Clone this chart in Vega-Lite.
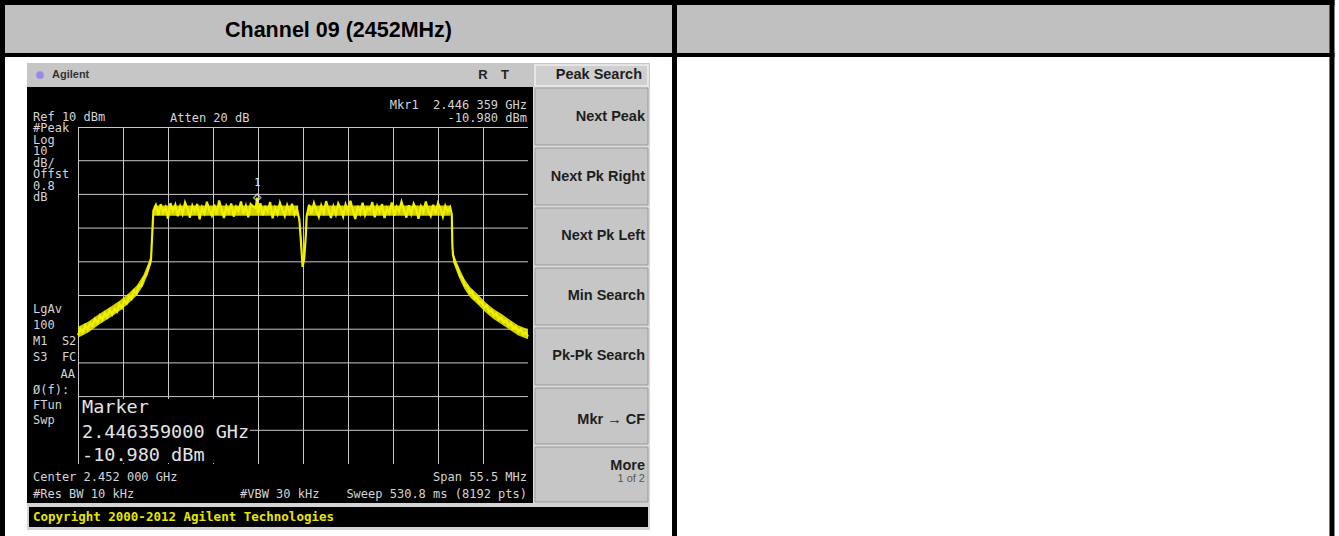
{
  "$schema": "https://vega.github.io/schema/vega-lite/v6.json",
  "width": 450,
  "height": 337,
  "autosize": {"type": "none"},
  "padding": {"left": 78, "top": 127, "right": 811, "bottom": 72},
  "background": "white",
  "config": {"view": {"fill": "black", "stroke": "#c8c8c8", "strokeWidth": 1}},
  "datasets": {
    "one": [{}],
    "marker": [{"f": 2446.359, "dbm": -10.98}],
    "envelope": [
      {"seg": "l", "f": 2424.25, "lo": -52.5, "hi": -49.3},
      {"seg": "l", "f": 2425.5, "lo": -51.0, "hi": -47.8},
      {"seg": "l", "f": 2427.0, "lo": -48.4, "hi": -45.3},
      {"seg": "l", "f": 2428.5, "lo": -46.1, "hi": -43.0},
      {"seg": "l", "f": 2429.5, "lo": -44.4, "hi": -41.3},
      {"seg": "l", "f": 2430.5, "lo": -42.3, "hi": -39.3},
      {"seg": "l", "f": 2431.5, "lo": -40.0, "hi": -37.0},
      {"seg": "l", "f": 2432.3, "lo": -37.0, "hi": -34.0},
      {"seg": "l", "f": 2432.9, "lo": -33.5, "hi": -30.5},
      {"seg": "l", "f": 2433.3, "lo": -30.5, "hi": -27.5},
      {"seg": "a", "f": 2433.6, "lo": -16.3, "hi": -13.3},
      {"seg": "a", "f": 2451.4, "lo": -16.3, "hi": -13.3},
      {"seg": "b", "f": 2452.6, "lo": -16.3, "hi": -13.3},
      {"seg": "b", "f": 2470.2, "lo": -16.3, "hi": -13.3},
      {"seg": "r", "f": 2470.5, "lo": -30.0, "hi": -27.0},
      {"seg": "r", "f": 2470.8, "lo": -32.0, "hi": -29.0},
      {"seg": "r", "f": 2471.3, "lo": -35.0, "hi": -32.0},
      {"seg": "r", "f": 2471.9, "lo": -38.0, "hi": -35.0},
      {"seg": "r", "f": 2472.6, "lo": -40.5, "hi": -37.5},
      {"seg": "r", "f": 2473.5, "lo": -42.5, "hi": -39.5},
      {"seg": "r", "f": 2474.5, "lo": -45.0, "hi": -42.0},
      {"seg": "r", "f": 2475.5, "lo": -47.0, "hi": -44.0},
      {"seg": "r", "f": 2476.5, "lo": -48.5, "hi": -45.5},
      {"seg": "r", "f": 2477.5, "lo": -50.2, "hi": -47.2},
      {"seg": "r", "f": 2478.5, "lo": -51.8, "hi": -48.8},
      {"seg": "r", "f": 2479.75, "lo": -53.0, "hi": -50.0}
    ],
    "trace": [
      {"f": 2424.25, "dbm": -51.8}, {"f": 2424.55, "dbm": -49.9}, {"f": 2424.85, "dbm": -51.0}, {"f": 2425.15, "dbm": -48.8},
      {"f": 2425.45, "dbm": -50.1}, {"f": 2425.75, "dbm": -48.2}, {"f": 2426.05, "dbm": -49.0}, {"f": 2426.35, "dbm": -46.9},
      {"f": 2426.65, "dbm": -48.1}, {"f": 2426.95, "dbm": -46.0}, {"f": 2427.25, "dbm": -47.3}, {"f": 2427.55, "dbm": -45.2},
      {"f": 2427.85, "dbm": -46.4}, {"f": 2428.15, "dbm": -44.3}, {"f": 2428.45, "dbm": -45.6}, {"f": 2428.75, "dbm": -43.9},
      {"f": 2429.05, "dbm": -44.8}, {"f": 2429.35, "dbm": -42.6}, {"f": 2429.65, "dbm": -43.7}, {"f": 2429.95, "dbm": -41.5},
      {"f": 2430.25, "dbm": -42.4}, {"f": 2430.55, "dbm": -40.3}, {"f": 2430.85, "dbm": -41.0}, {"f": 2431.15, "dbm": -38.6},
      {"f": 2431.45, "dbm": -39.4}, {"f": 2431.75, "dbm": -37.0}, {"f": 2432.05, "dbm": -37.2}, {"f": 2432.35, "dbm": -34.8},
      {"f": 2432.65, "dbm": -33.9}, {"f": 2432.95, "dbm": -31.5}, {"f": 2433.25, "dbm": -29.5}, {"f": 2433.4, "dbm": -22.0},
      {"f": 2433.55, "dbm": -14.8}, {"f": 2433.85, "dbm": -13.2}, {"f": 2434.15, "dbm": -16.1}, {"f": 2434.45, "dbm": -12.9},
      {"f": 2434.75, "dbm": -15.4}, {"f": 2435.05, "dbm": -13.8}, {"f": 2435.35, "dbm": -17.2}, {"f": 2435.65, "dbm": -12.6},
      {"f": 2435.95, "dbm": -14.9}, {"f": 2436.25, "dbm": -13.1}, {"f": 2436.55, "dbm": -16.5}, {"f": 2436.85, "dbm": -13.6},
      {"f": 2437.15, "dbm": -15.8}, {"f": 2437.45, "dbm": -12.4}, {"f": 2437.75, "dbm": -14.2}, {"f": 2438.05, "dbm": -16.9},
      {"f": 2438.35, "dbm": -13.3}, {"f": 2438.65, "dbm": -15.1}, {"f": 2438.95, "dbm": -12.8}, {"f": 2439.25, "dbm": -17.4},
      {"f": 2439.55, "dbm": -13.9}, {"f": 2439.85, "dbm": -15.6}, {"f": 2440.15, "dbm": -12.2}, {"f": 2440.45, "dbm": -14.7},
      {"f": 2440.75, "dbm": -16.3}, {"f": 2441.05, "dbm": -13.0}, {"f": 2441.35, "dbm": -15.9}, {"f": 2441.65, "dbm": -11.8},
      {"f": 2441.95, "dbm": -14.4}, {"f": 2442.25, "dbm": -17.0}, {"f": 2442.55, "dbm": -13.5}, {"f": 2442.85, "dbm": -15.2},
      {"f": 2443.15, "dbm": -12.7}, {"f": 2443.45, "dbm": -16.6}, {"f": 2443.75, "dbm": -13.7}, {"f": 2444.05, "dbm": -14.9},
      {"f": 2444.35, "dbm": -12.1}, {"f": 2444.65, "dbm": -15.7}, {"f": 2444.95, "dbm": -13.4}, {"f": 2445.25, "dbm": -16.8},
      {"f": 2445.55, "dbm": -12.9}, {"f": 2445.85, "dbm": -13.6}, {"f": 2446.15, "dbm": -14.1}, {"f": 2446.359, "dbm": -10.98},
      {"f": 2446.45, "dbm": -15.5}, {"f": 2446.75, "dbm": -12.6}, {"f": 2447.05, "dbm": -16.2}, {"f": 2447.35, "dbm": -13.8},
      {"f": 2447.65, "dbm": -15.0}, {"f": 2447.95, "dbm": -12.3}, {"f": 2448.25, "dbm": -17.1}, {"f": 2448.55, "dbm": -14.0},
      {"f": 2448.85, "dbm": -15.8}, {"f": 2449.15, "dbm": -12.5}, {"f": 2449.45, "dbm": -14.6}, {"f": 2449.75, "dbm": -16.4},
      {"f": 2450.05, "dbm": -13.2}, {"f": 2450.35, "dbm": -15.3}, {"f": 2450.65, "dbm": -12.8}, {"f": 2450.95, "dbm": -16.0},
      {"f": 2451.25, "dbm": -14.3}, {"f": 2451.55, "dbm": -17.5}, {"f": 2451.75, "dbm": -24.0}, {"f": 2451.95, "dbm": -31.5},
      {"f": 2452.15, "dbm": -29.0}, {"f": 2452.35, "dbm": -22.0}, {"f": 2452.45, "dbm": -16.5}, {"f": 2452.75, "dbm": -13.1},
      {"f": 2453.05, "dbm": -15.7}, {"f": 2453.35, "dbm": -12.6}, {"f": 2453.65, "dbm": -14.8}, {"f": 2453.95, "dbm": -16.7},
      {"f": 2454.25, "dbm": -13.3}, {"f": 2454.55, "dbm": -15.4}, {"f": 2454.85, "dbm": -12.0}, {"f": 2455.15, "dbm": -14.5},
      {"f": 2455.45, "dbm": -17.0}, {"f": 2455.75, "dbm": -13.6}, {"f": 2456.05, "dbm": -15.9}, {"f": 2456.35, "dbm": -12.7},
      {"f": 2456.65, "dbm": -14.2}, {"f": 2456.95, "dbm": -16.5}, {"f": 2457.25, "dbm": -13.0}, {"f": 2457.55, "dbm": -15.1},
      {"f": 2457.85, "dbm": -11.9}, {"f": 2458.15, "dbm": -14.8}, {"f": 2458.45, "dbm": -17.3}, {"f": 2458.75, "dbm": -13.4},
      {"f": 2459.05, "dbm": -15.6}, {"f": 2459.35, "dbm": -12.5}, {"f": 2459.65, "dbm": -16.1}, {"f": 2459.95, "dbm": -13.9},
      {"f": 2460.25, "dbm": -14.7}, {"f": 2460.55, "dbm": -12.3}, {"f": 2460.85, "dbm": -16.8}, {"f": 2461.15, "dbm": -13.5},
      {"f": 2461.45, "dbm": -15.2}, {"f": 2461.75, "dbm": -12.9}, {"f": 2462.05, "dbm": -17.0}, {"f": 2462.35, "dbm": -14.1},
      {"f": 2462.65, "dbm": -15.5}, {"f": 2462.95, "dbm": -12.4}, {"f": 2463.25, "dbm": -16.3}, {"f": 2463.55, "dbm": -13.7},
      {"f": 2463.85, "dbm": -15.0}, {"f": 2464.15, "dbm": -12.2}, {"f": 2464.45, "dbm": -14.6}, {"f": 2464.75, "dbm": -16.9},
      {"f": 2465.05, "dbm": -13.2}, {"f": 2465.35, "dbm": -15.8}, {"f": 2465.65, "dbm": -12.8}, {"f": 2465.95, "dbm": -14.4},
      {"f": 2466.25, "dbm": -17.2}, {"f": 2466.55, "dbm": -13.6}, {"f": 2466.85, "dbm": -15.3}, {"f": 2467.15, "dbm": -12.1},
      {"f": 2467.45, "dbm": -14.9}, {"f": 2467.75, "dbm": -16.4}, {"f": 2468.05, "dbm": -13.1}, {"f": 2468.35, "dbm": -15.7},
      {"f": 2468.65, "dbm": -12.6}, {"f": 2468.95, "dbm": -14.2}, {"f": 2469.25, "dbm": -16.6}, {"f": 2469.55, "dbm": -13.4},
      {"f": 2469.85, "dbm": -15.1}, {"f": 2470.15, "dbm": -13.8}, {"f": 2470.35, "dbm": -16.0}, {"f": 2470.42, "dbm": -25.0},
      {"f": 2470.5, "dbm": -28.0}, {"f": 2470.75, "dbm": -30.5}, {"f": 2471.05, "dbm": -31.6}, {"f": 2471.35, "dbm": -34.2},
      {"f": 2471.65, "dbm": -34.8}, {"f": 2471.95, "dbm": -37.0}, {"f": 2472.25, "dbm": -37.1}, {"f": 2472.55, "dbm": -39.2},
      {"f": 2472.85, "dbm": -38.8}, {"f": 2473.15, "dbm": -40.9}, {"f": 2473.45, "dbm": -40.5}, {"f": 2473.75, "dbm": -42.3},
      {"f": 2474.05, "dbm": -41.8}, {"f": 2474.35, "dbm": -43.6}, {"f": 2474.65, "dbm": -43.0}, {"f": 2474.95, "dbm": -44.9},
      {"f": 2475.25, "dbm": -44.3}, {"f": 2475.55, "dbm": -46.0}, {"f": 2475.85, "dbm": -45.4}, {"f": 2476.15, "dbm": -47.1},
      {"f": 2476.45, "dbm": -46.5}, {"f": 2476.75, "dbm": -48.0}, {"f": 2477.05, "dbm": -47.4}, {"f": 2477.35, "dbm": -49.0},
      {"f": 2477.65, "dbm": -48.3}, {"f": 2477.95, "dbm": -49.9}, {"f": 2478.25, "dbm": -49.2}, {"f": 2478.55, "dbm": -50.8},
      {"f": 2478.85, "dbm": -50.0}, {"f": 2479.15, "dbm": -51.6}, {"f": 2479.45, "dbm": -50.9}, {"f": 2479.75, "dbm": -52.2}
    ]
  },
  "layer": [
    {"data": {"name": "one"}, "mark": {"type": "rect", "fill": "#c0c0c0"},
     "encoding": {"x": {"datum": 2415.0}, "x2": {"datum": 2578.787}, "y": {"datum": 46.796}, "y2": {"datum": 31.365}}},
    {"data": {"name": "one"}, "mark": {"type": "rect", "fill": "#c6c6c6"},
     "encoding": {"x": {"datum": 2417.96}, "x2": {"datum": 2494.797}, "y": {"datum": 28.991}, "y2": {"datum": 21.87}}},
    {"data": {"name": "one"}, "mark": {"type": "rect", "fill": "#dcdcdc"},
     "encoding": {"x": {"datum": 2480.367}, "x2": {"datum": 2494.797}, "y": {"datum": 21.87}, "y2": {"datum": -101.574}}},
    {"data": {"name": "one"}, "mark": {"type": "rect", "fill": "#d4d4d4"},
     "encoding": {"x": {"datum": 2417.96}, "x2": {"datum": 2494.797}, "y": {"datum": -101.574}, "y2": {"datum": -109.586}}},
    {"data": {"name": "one"}, "mark": {"type": "rect", "fill": "black"},
     "encoding": {"x": {"datum": 2418.207}, "x2": {"datum": 2494.55}, "y": {"datum": -102.761}, "y2": {"datum": -108.696}}},
    {"data": {"name": "one"}, "mark": {"type": "rect", "fill": "black"},
     "encoding": {"x": {"datum": 2417.96}, "x2": {"datum": 2424.25}, "y": {"datum": 21.87}, "y2": {"datum": -101.574}}},
    {"data": {"name": "one"}, "mark": {"type": "rect", "fill": "black"},
     "encoding": {"x": {"datum": 2424.25}, "x2": {"datum": 2479.75}, "y": {"datum": 21.87}, "y2": {"datum": 10}}},
    {"data": {"name": "one"}, "mark": {"type": "rect", "fill": "black"},
     "encoding": {"x": {"datum": 2424.25}, "x2": {"datum": 2479.75}, "y": {"datum": -90}, "y2": {"datum": -101.574}}},
    {"data": {"name": "one"}, "mark": {"type": "rect", "fill": "black"},
     "encoding": {"x": {"datum": 2479.75}, "x2": {"datum": 2480.367}, "y": {"datum": 21.87}, "y2": {"datum": -101.574}}},
    {"data": {"name": "one"}, "mark": {"type": "rect", "fill": "#cfcfcf", "stroke": "#f0f0f0", "strokeWidth": 1.5},
     "encoding": {"x": {"datum": 2480.613}, "x2": {"datum": 2494.55}, "y": {"datum": 28.398}, "y2": {"datum": 22.166}}},
    {"data": {"name": "one"}, "mark": {"type": "rect", "fill": "#c6c6c6", "stroke": "#9a9a9a", "strokeWidth": 1},
     "encoding": {"x": {"datum": 2480.613}, "x2": {"datum": 2494.55}, "y": {"datum": 21.573}, "y2": {"datum": 4.659}}},
    {"data": {"name": "one"}, "mark": {"type": "rect", "fill": "#c6c6c6", "stroke": "#9a9a9a", "strokeWidth": 1},
     "encoding": {"x": {"datum": 2480.613}, "x2": {"datum": 2494.55}, "y": {"datum": 3.768}, "y2": {"datum": -13.146}}},
    {"data": {"name": "one"}, "mark": {"type": "rect", "fill": "#c6c6c6", "stroke": "#9a9a9a", "strokeWidth": 1},
     "encoding": {"x": {"datum": 2480.613}, "x2": {"datum": 2494.55}, "y": {"datum": -14.036}, "y2": {"datum": -30.95}}},
    {"data": {"name": "one"}, "mark": {"type": "rect", "fill": "#c6c6c6", "stroke": "#9a9a9a", "strokeWidth": 1},
     "encoding": {"x": {"datum": 2480.613}, "x2": {"datum": 2494.55}, "y": {"datum": -31.84}, "y2": {"datum": -48.755}}},
    {"data": {"name": "one"}, "mark": {"type": "rect", "fill": "#c6c6c6", "stroke": "#9a9a9a", "strokeWidth": 1},
     "encoding": {"x": {"datum": 2480.613}, "x2": {"datum": 2494.55}, "y": {"datum": -49.645}, "y2": {"datum": -66.559}}},
    {"data": {"name": "one"}, "mark": {"type": "rect", "fill": "#c6c6c6", "stroke": "#9a9a9a", "strokeWidth": 1},
     "encoding": {"x": {"datum": 2480.613}, "x2": {"datum": 2494.55}, "y": {"datum": -67.449}, "y2": {"datum": -84.067}}},
    {"data": {"name": "one"}, "mark": {"type": "rect", "fill": "#c6c6c6", "stroke": "#9a9a9a", "strokeWidth": 1},
     "encoding": {"x": {"datum": 2480.613}, "x2": {"datum": 2494.55}, "y": {"datum": -84.957}, "y2": {"datum": -101.278}}},
    {"data": {"name": "one"}, "mark": {"type": "rule", "color": "#c8c8c8", "strokeWidth": 1}, "encoding": {"x": {"datum": 2424.25}, "x2": {"datum": 2479.75}, "y": {"datum": -80}}},
    {"data": {"name": "one"}, "mark": {"type": "rule", "color": "#c8c8c8", "strokeWidth": 1}, "encoding": {"x": {"datum": 2424.25}, "x2": {"datum": 2479.75}, "y": {"datum": -70}}},
    {"data": {"name": "one"}, "mark": {"type": "rule", "color": "#c8c8c8", "strokeWidth": 1}, "encoding": {"x": {"datum": 2424.25}, "x2": {"datum": 2479.75}, "y": {"datum": -60}}},
    {"data": {"name": "one"}, "mark": {"type": "rule", "color": "#c8c8c8", "strokeWidth": 1}, "encoding": {"x": {"datum": 2424.25}, "x2": {"datum": 2479.75}, "y": {"datum": -50}}},
    {"data": {"name": "one"}, "mark": {"type": "rule", "color": "#c8c8c8", "strokeWidth": 1}, "encoding": {"x": {"datum": 2424.25}, "x2": {"datum": 2479.75}, "y": {"datum": -40}}},
    {"data": {"name": "one"}, "mark": {"type": "rule", "color": "#c8c8c8", "strokeWidth": 1}, "encoding": {"x": {"datum": 2424.25}, "x2": {"datum": 2479.75}, "y": {"datum": -30}}},
    {"data": {"name": "one"}, "mark": {"type": "rule", "color": "#c8c8c8", "strokeWidth": 1}, "encoding": {"x": {"datum": 2424.25}, "x2": {"datum": 2479.75}, "y": {"datum": -20}}},
    {"data": {"name": "one"}, "mark": {"type": "rule", "color": "#c8c8c8", "strokeWidth": 1}, "encoding": {"x": {"datum": 2424.25}, "x2": {"datum": 2479.75}, "y": {"datum": -10}}},
    {"data": {"name": "one"}, "mark": {"type": "rule", "color": "#c8c8c8", "strokeWidth": 1}, "encoding": {"x": {"datum": 2424.25}, "x2": {"datum": 2479.75}, "y": {"datum": 0}}},
    {"data": {"name": "one"}, "mark": {"type": "rect", "fill": "black"},
     "encoding": {"x": {"datum": 2424.373}, "x2": {"datum": 2445.463}, "y": {"datum": -70.713}, "y2": {"datum": -89.704}}},
    {"data": {"name": "envelope"}, "mark": {"type": "area", "color": "#e8e800", "opacity": 0.9},
     "encoding": {"x": {"field": "f", "type": "quantitative"}, "y": {"field": "hi", "type": "quantitative"}, "y2": {"field": "lo"}, "detail": {"field": "seg", "type": "nominal"}}},
    {"data": {"name": "trace"}, "mark": {"type": "line", "color": "#f0f000", "strokeWidth": 2.2},
     "encoding": {
       "x": {"field": "f", "type": "quantitative", "scale": {"domain": [2424.25, 2479.75], "nice": false, "zero": false},
             "axis": {"title": "", "labels": false, "ticks": false, "domain": false, "grid": true, "gridColor": "#c8c8c8", "gridOpacity": 1,
                      "values": [2424.25, 2429.8, 2435.35, 2440.9, 2446.45, 2452.0, 2457.55, 2463.1, 2468.65, 2474.2, 2479.75]}},
       "y": {"field": "dbm", "type": "quantitative", "scale": {"domain": [-90, 10], "nice": false, "zero": false},
             "axis": {"title": "", "labels": false, "ticks": false, "domain": false, "grid": false}}
     }},
    {"data": {"name": "marker"}, "mark": {"type": "point", "shape": "diamond", "size": 50, "filled": false, "stroke": "#e8e8e8", "strokeWidth": 1.5},
     "encoding": {"x": {"field": "f", "type": "quantitative"}, "y": {"field": "dbm", "type": "quantitative"}}},
    {"data": {"name": "marker"}, "mark": {"type": "text", "text": "1", "dy": -15, "font": "DejaVu Sans Mono", "fontSize": 10, "fill": "#e0e0e0"},
     "encoding": {"x": {"field": "f", "type": "quantitative"}, "y": {"field": "dbm", "type": "quantitative"}}},
    {"data": {"name": "one"}, "mark": {"type": "point", "shape": "circle", "size": 60, "filled": true, "fill": "#8c7cf0", "opacity": 0.8},
     "encoding": {"x": {"datum": 2419.563}, "y": {"datum": 25.43}}},
    {"data": {"name": "one"}, "mark": {"type": "text", "text": "Agilent", "align": "left", "baseline": "middle", "font": "Liberation Sans", "fontSize": 11, "fontWeight": "bold", "fill": "#333333"},
     "encoding": {"x": {"datum": 2421.043}, "y": {"datum": 25.43}}},
    {"data": {"name": "one"}, "mark": {"type": "text", "text": "R", "align": "center", "baseline": "middle", "font": "Liberation Sans", "fontSize": 13, "fontWeight": "bold", "fill": "#222222"},
     "encoding": {"x": {"datum": 2474.2}, "y": {"datum": 25.43}}},
    {"data": {"name": "one"}, "mark": {"type": "text", "text": "T", "align": "center", "baseline": "middle", "font": "Liberation Sans", "fontSize": 13, "fontWeight": "bold", "fill": "#222222"},
     "encoding": {"x": {"datum": 2476.913}, "y": {"datum": 25.43}}},
    {"data": {"name": "one"}, "mark": {"type": "text", "text": "Peak Search", "align": "right", "baseline": "middle", "font": "Liberation Sans", "fontSize": 14.5, "fontWeight": "bold", "fill": "#1e1e1e"},
     "encoding": {"x": {"datum": 2493.81}, "y": {"datum": 25.43}}},
    {"data": {"name": "one"}, "mark": {"type": "text", "text": "Next Peak", "align": "right", "baseline": "middle", "font": "Liberation Sans", "fontSize": 14.5, "fontWeight": "bold", "fill": "#1e1e1e"},
     "encoding": {"x": {"datum": 2494.18}, "y": {"datum": 12.967}}},
    {"data": {"name": "one"}, "mark": {"type": "text", "text": "Next Pk Right", "align": "right", "baseline": "middle", "font": "Liberation Sans", "fontSize": 14.5, "fontWeight": "bold", "fill": "#1e1e1e"},
     "encoding": {"x": {"datum": 2494.18}, "y": {"datum": -4.837}}},
    {"data": {"name": "one"}, "mark": {"type": "text", "text": "Next Pk Left", "align": "right", "baseline": "middle", "font": "Liberation Sans", "fontSize": 14.5, "fontWeight": "bold", "fill": "#1e1e1e"},
     "encoding": {"x": {"datum": 2494.18}, "y": {"datum": -22.345}}},
    {"data": {"name": "one"}, "mark": {"type": "text", "text": "Min Search", "align": "right", "baseline": "middle", "font": "Liberation Sans", "fontSize": 14.5, "fontWeight": "bold", "fill": "#1e1e1e"},
     "encoding": {"x": {"datum": 2494.18}, "y": {"datum": -40.149}}},
    {"data": {"name": "one"}, "mark": {"type": "text", "text": "Pk-Pk Search", "align": "right", "baseline": "middle", "font": "Liberation Sans", "fontSize": 14.5, "fontWeight": "bold", "fill": "#1e1e1e"},
     "encoding": {"x": {"datum": 2494.18}, "y": {"datum": -57.953}}},
    {"data": {"name": "one"}, "mark": {"type": "text", "text": "Mkr → CF", "align": "right", "baseline": "middle", "font": "Liberation Sans", "fontSize": 14.5, "fontWeight": "bold", "fill": "#1e1e1e"},
     "encoding": {"x": {"datum": 2494.18}, "y": {"datum": -76.945}}},
    {"data": {"name": "one"}, "mark": {"type": "text", "text": "More", "align": "right", "baseline": "middle", "font": "Liberation Sans", "fontSize": 14.5, "fontWeight": "bold", "fill": "#1e1e1e"},
     "encoding": {"x": {"datum": 2494.18}, "y": {"datum": -90.595}}},
    {"data": {"name": "one"}, "mark": {"type": "text", "text": "1 of 2", "align": "right", "baseline": "middle", "font": "Liberation Sans", "fontSize": 11, "fill": "#555555"},
     "encoding": {"x": {"datum": 2494.18}, "y": {"datum": -94.452}}},
    {"data": {"name": "one"}, "mark": {"type": "text", "text": ["Mkr1\u00a0\u00a02.446\u00a0359\u00a0GHz", "-10.980\u00a0dBm"], "align": "right", "baseline": "top", "lineHeight": 13, "font": "DejaVu Sans Mono", "fontSize": 12, "fill": "#d4d4d4"},
     "encoding": {"x": {"datum": 2479.627}, "y": {"datum": 18.101}}},
    {"data": {"name": "one"}, "mark": {"type": "text", "text": "Atten 20 dB", "align": "left", "baseline": "middle", "font": "DejaVu Sans Mono", "fontSize": 12, "fill": "#d4d4d4"},
     "encoding": {"x": {"datum": 2435.597}, "y": {"datum": 12.671}}},
    {"data": {"name": "one"}, "mark": {"type": "text", "text": ["Ref 10 dBm", "#Peak", "Log", "10", "dB/", "Offst", "0.8", "dB"], "align": "left", "baseline": "top", "lineHeight": 11.5, "font": "DejaVu Sans Mono", "fontSize": 12, "fill": "#d4d4d4"},
     "encoding": {"x": {"datum": 2418.7}, "y": {"datum": 14.54}}},
    {"data": {"name": "one"}, "mark": {"type": "text", "text": ["LgAv", "100", "M1\u00a0\u00a0S2", "S3\u00a0\u00a0FC"], "align": "left", "baseline": "top", "lineHeight": 16, "font": "DejaVu Sans Mono", "fontSize": 12, "fill": "#d4d4d4"},
     "encoding": {"x": {"datum": 2418.7}, "y": {"datum": -42.434}}},
    {"data": {"name": "one"}, "mark": {"type": "text", "text": "AA", "align": "right", "baseline": "middle", "font": "DejaVu Sans Mono", "fontSize": 12, "fill": "#d4d4d4"},
     "encoding": {"x": {"datum": 2423.88}, "y": {"datum": -63.295}}},
    {"data": {"name": "one"}, "mark": {"type": "text", "text": ["Ø(f):", "FTun", "Swp"], "align": "left", "baseline": "top", "lineHeight": 15, "font": "DejaVu Sans Mono", "fontSize": 12, "fill": "#d4d4d4"},
     "encoding": {"x": {"datum": 2418.7}, "y": {"datum": -66.47}}},
    {"data": {"name": "one"}, "mark": {"type": "text", "text": ["Center 2.452 000 GHz", "#Res BW 10 kHz"], "align": "left", "baseline": "top", "lineHeight": 17, "font": "DejaVu Sans Mono", "fontSize": 12, "fill": "#d4d4d4"},
     "encoding": {"x": {"datum": 2418.7}, "y": {"datum": -92.286}}},
    {"data": {"name": "one"}, "mark": {"type": "text", "text": ["Span 55.5 MHz", "Sweep 530.8 ms (8192 pts)"], "align": "right", "baseline": "top", "lineHeight": 17, "font": "DejaVu Sans Mono", "fontSize": 12, "fill": "#d4d4d4"},
     "encoding": {"x": {"datum": 2479.627}, "y": {"datum": -92.286}}},
    {"data": {"name": "one"}, "mark": {"type": "text", "text": "#VBW 30 kHz", "align": "left", "baseline": "middle", "font": "DejaVu Sans Mono", "fontSize": 12, "fill": "#d4d4d4"},
     "encoding": {"x": {"datum": 2444.23}, "y": {"datum": -98.903}}},
    {"data": {"name": "one"}, "mark": {"type": "text", "text": "Marker", "align": "left", "baseline": "middle", "font": "DejaVu Sans Mono", "fontSize": 18.5, "fill": "#e4e4e4"},
     "encoding": {"x": {"datum": 2424.743}, "y": {"datum": -73.087}}},
    {"data": {"name": "one"}, "mark": {"type": "text", "text": "2.446359000 GHz", "align": "left", "baseline": "middle", "font": "DejaVu Sans Mono", "fontSize": 18.5, "fill": "#e4e4e4"},
     "encoding": {"x": {"datum": 2424.743}, "y": {"datum": -80.506}}},
    {"data": {"name": "one"}, "mark": {"type": "text", "text": "-10.980 dBm", "align": "left", "baseline": "middle", "font": "DejaVu Sans Mono", "fontSize": 18.5, "fill": "#e4e4e4"},
     "encoding": {"x": {"datum": 2424.743}, "y": {"datum": -87.331}}},
    {"data": {"name": "one"}, "mark": {"type": "text", "text": "Copyright 2000-2012 Agilent Technologies", "align": "left", "baseline": "middle", "font": "DejaVu Sans Mono", "fontSize": 12.5, "fontWeight": "bold", "fill": "#e6e600"},
     "encoding": {"x": {"datum": 2418.7}, "y": {"datum": -105.729}}},
    {"data": {"name": "one"}, "mark": {"type": "text", "text": "Channel 09 (2452MHz)", "align": "center", "baseline": "middle", "font": "Liberation Sans", "fontSize": 21.5, "fontWeight": "bold", "fill": "black"},
     "encoding": {"x": {"datum": 2456.378}, "y": {"datum": 38.487}}},
    {"data": {"name": "one"}, "mark": {"type": "rule", "color": "black", "strokeWidth": 5},
     "encoding": {"x": {"datum": 2414.63}, "x2": {"datum": 2579.218}, "y": {"datum": 46.944}}},
    {"data": {"name": "one"}, "mark": {"type": "rule", "color": "black", "strokeWidth": 4},
     "encoding": {"x": {"datum": 2414.63}, "x2": {"datum": 2579.218}, "y": {"datum": 31.365}}},
    {"data": {"name": "one"}, "mark": {"type": "rule", "color": "black", "strokeWidth": 5},
     "encoding": {"x": {"datum": 2414.938}, "y": {"datum": 47.686}, "y2": {"datum": -114.037}}},
    {"data": {"name": "one"}, "mark": {"type": "rule", "color": "black", "strokeWidth": 5},
     "encoding": {"x": {"datum": 2578.907}, "y": {"datum": 47.686}, "y2": {"datum": -114.037}}},
    {"data": {"name": "one"}, "mark": {"type": "rule", "color": "black", "strokeWidth": 5},
     "encoding": {"x": {"datum": 2497.818}, "y": {"datum": 47.686}, "y2": {"datum": -114.037}}}
  ]
}
